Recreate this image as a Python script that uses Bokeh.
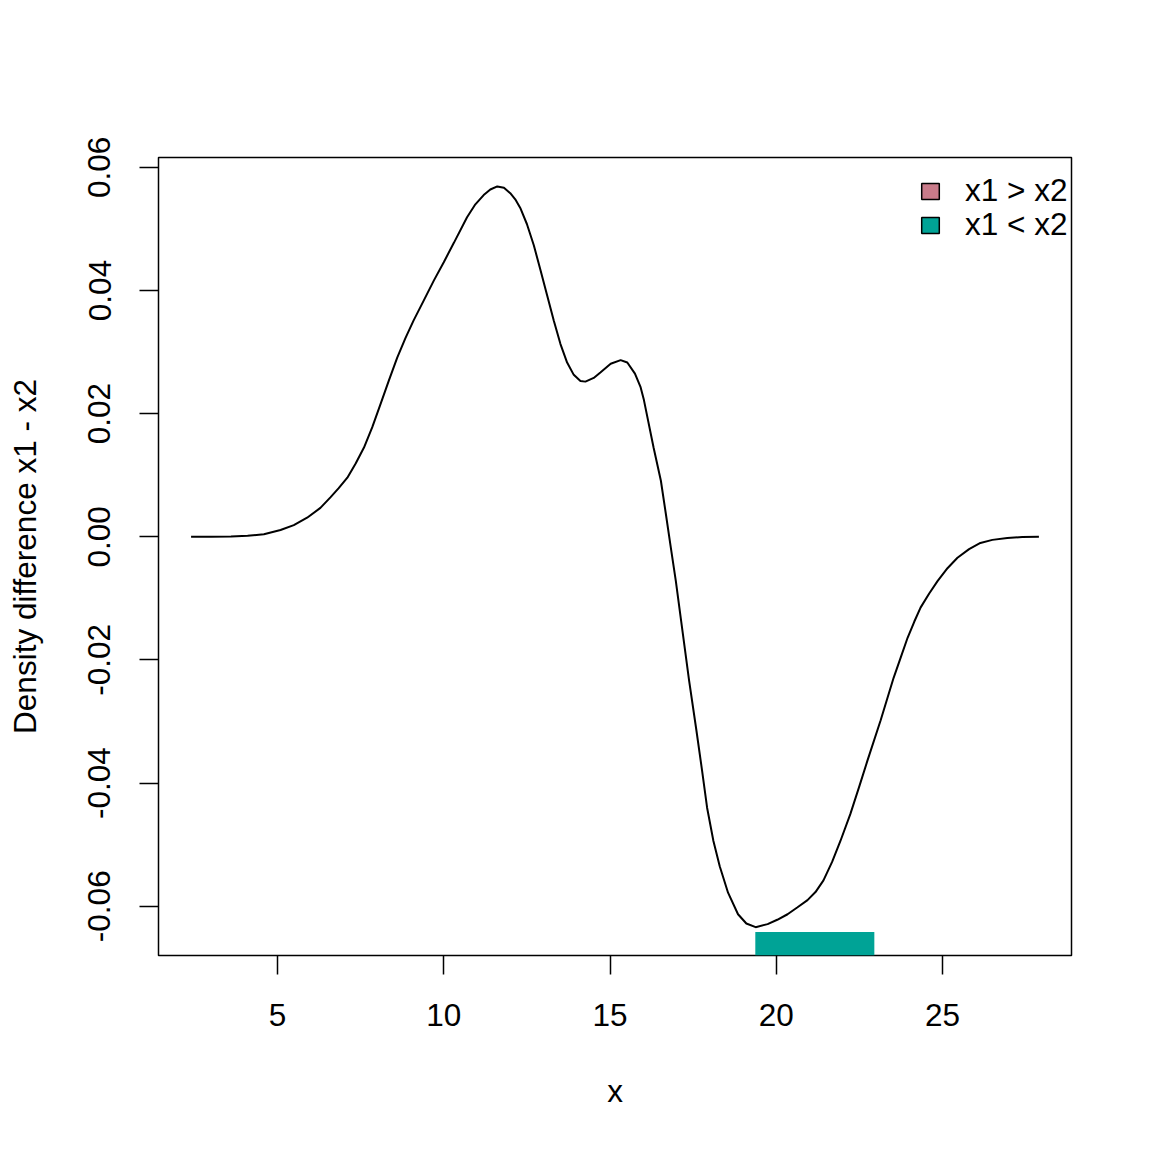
from bokeh.plotting import figure
from bokeh.models import Range1d, FixedTicker, PrintfTickFormatter, Legend, LegendItem
from bokeh.embed import file_html
from bokeh.resources import INLINE

# ---- data ----
x_vals = [2.4, 3.0, 3.6, 4.1, 4.59, 5.09, 5.49, 5.89, 6.29, 6.59, 6.84, 7.1, 7.35, 7.6,
          7.85, 8.1, 8.35, 8.6, 8.85, 9.09, 9.4, 9.7, 10.0, 10.3, 10.7, 10.95, 11.2,
          11.4, 11.61, 11.81, 12.0, 12.15, 12.31, 12.5, 12.71, 12.91, 13.11, 13.31,
          13.51, 13.71, 13.91, 14.11, 14.26, 14.51, 14.71, 15.02, 15.32, 15.52, 15.75,
          15.92, 16.02, 16.31, 16.53, 16.68, 16.83, 16.98, 17.14, 17.38, 17.6, 17.77,
          17.92, 18.11, 18.3, 18.55, 18.85, 19.1, 19.38, 19.74, 20.03, 20.34, 20.63,
          20.94, 21.18, 21.42, 21.68, 21.93, 22.23, 22.5, 22.74, 23.14, 23.53, 23.75,
          23.95, 24.15, 24.34, 24.6, 24.85, 25.15, 25.45, 25.8, 26.14, 26.5, 26.95,
          27.4, 27.9]
density_diff = [0.0, 0.00002, 0.00006, 0.00016, 0.0004, 0.0011, 0.0019, 0.0031, 0.0047,
                0.0064, 0.0079, 0.0096, 0.0119, 0.0145, 0.0178, 0.0216, 0.0254, 0.0291,
                0.0323, 0.0351, 0.0384, 0.0416, 0.0446, 0.0477, 0.0519, 0.0540, 0.0555,
                0.0564, 0.0569, 0.0567, 0.0558, 0.0548, 0.0533, 0.0508, 0.0473, 0.0433,
                0.0392, 0.0351, 0.0313, 0.0283, 0.0263, 0.0253, 0.0252, 0.0258, 0.0267,
                0.0281, 0.0287, 0.0283, 0.0265, 0.0243, 0.0222, 0.0145, 0.0091, 0.0037,
                -0.0018, -0.0072, -0.0137, -0.0234, -0.0315, -0.0380, -0.0440, -0.0494,
                -0.0535, -0.0578, -0.0613, -0.0628, -0.0634, -0.0629, -0.0622, -0.0613,
                -0.0602, -0.0590, -0.0577, -0.0558, -0.0528, -0.0494, -0.0450, -0.0405,
                -0.0364, -0.0298, -0.0229, -0.0195, -0.0164, -0.0138, -0.0115, -0.0092,
                -0.0072, -0.0051, -0.0034, -0.0020, -0.0010, -0.0005, -0.0002, -0.00005,
                0.0]

# significant region where x1 < x2
sig_left = [19.37]
sig_right = [22.95]
sig_top = [-0.0642]

legend_labels = ["x1 > x2", "x1 < x2"]
legend_colors = ["#C97B8A", "#00A396"]

x_ticks = [5, 10, 15, 20, 25]
y_ticks = [-0.06, -0.04, -0.02, 0.0, 0.02, 0.04, 0.06]

x_min, x_max = 1.42, 28.88
y_min, y_max = -0.0680, 0.0616

FONT = "Liberation Sans"
FS = "31.5px"

p = figure(frame_width=913, frame_height=798,
           x_range=Range1d(x_min, x_max), y_range=Range1d(y_min, y_max),
           output_backend="svg", toolbar_location=None,
           min_border_left=158, min_border_right=73,
           min_border_top=157, min_border_bottom=189)
p.grid.visible = False
p.outline_line_color = "black"
p.outline_line_width = 1.5
p.background_fill_color = "white"
p.border_fill_color = "white"

# significance bar
p.quad(left=sig_left, right=sig_right, bottom=[y_min], top=sig_top,
       fill_color=legend_colors[1], line_color=None)

# density difference curve
p.line(x_vals, density_diff, line_color="black", line_width=2)

for ax in (p.xaxis[0], p.yaxis[0]):
    ax.axis_line_color = None
    ax.minor_tick_line_color = None
    ax.major_tick_in = 0
    ax.major_tick_out = 19
    ax.major_tick_line_width = 1.5
    ax.major_tick_line_color = "black"
    ax.major_label_text_font = FONT
    ax.major_label_text_font_size = FS
    ax.major_label_text_color = "black"
    ax.axis_label_text_font = FONT
    ax.axis_label_text_font_size = FS
    ax.axis_label_text_font_style = "normal"
    ax.axis_label_text_color = "black"

xa = p.xaxis[0]
xa.ticker = FixedTicker(ticks=x_ticks)
xa.axis_label = "x"
xa.major_label_standoff = 29
xa.axis_label_standoff = 44

ya = p.yaxis[0]
ya.ticker = FixedTicker(ticks=y_ticks)
ya.formatter = PrintfTickFormatter(format="%.2f")
ya.major_label_orientation = "vertical"
ya.axis_label = "Density difference x1 - x2"
ya.major_label_standoff = 29
ya.axis_label_standoff = 43

# legend (key renderers hidden; only their legend swatches are shown)
key_renderers = []
for col in legend_colors:
    key_renderers.append(
        p.quad(left=sig_left, right=sig_right, bottom=[y_min], top=sig_top,
               fill_color=col, line_color="black", line_width=1.5, visible=False))

legend_rows_vy = [746, 712]  # screen offsets of each legend row from frame bottom
for label, rend, vy in zip(legend_labels, key_renderers, legend_rows_vy):
    lg = Legend(items=[LegendItem(label=label, renderers=[rend])],
                location=(761, vy), glyph_width=22, glyph_height=20,
                label_standoff=24, spacing=0, padding=0, margin=0,
                border_line_color=None, background_fill_alpha=0,
                inactive_fill_alpha=0,
                label_text_font=FONT, label_text_font_size=FS,
                label_text_color="black")
    p.add_layout(lg)

open("out.html", "w").write(file_html(p, INLINE))
